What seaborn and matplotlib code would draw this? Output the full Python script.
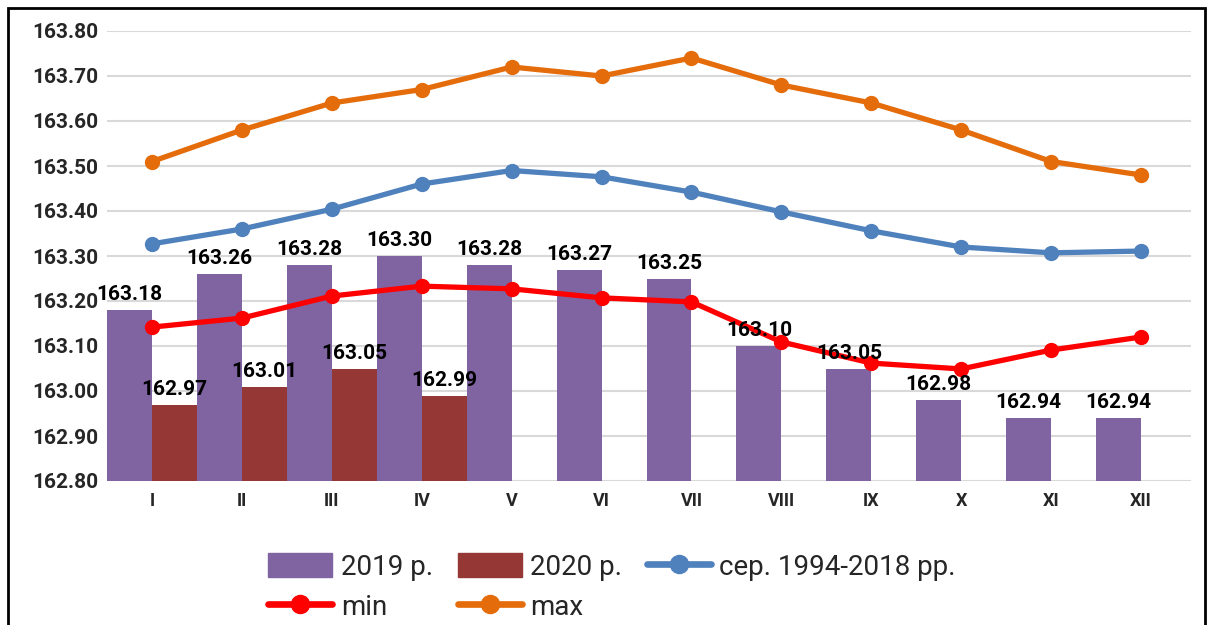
import pandas as pd
import matplotlib.pyplot as plt
import seaborn as sns
from matplotlib.patches import Rectangle, Patch
from matplotlib.lines import Line2D

# Рівні води по місяцях
months = ['I', 'II', 'III', 'IV', 'V', 'VI', 'VII', 'VIII', 'IX', 'X', 'XI', 'XII']
lvl_2019 = [163.18, 163.26, 163.28, 163.30, 163.28, 163.27, 163.25, 163.10, 163.05, 162.98, 162.94, 162.94]
lvl_2020 = [162.97, 163.01, 163.05, 162.99, None, None, None, None, None, None, None, None]
lvl_avg = [163.327, 163.36, 163.404, 163.46, 163.49, 163.476, 163.442, 163.398, 163.356, 163.32, 163.307, 163.311]
lvl_min = [163.142, 163.162, 163.211, 163.233, 163.227, 163.207, 163.198, 163.109, 163.062, 163.049, 163.091, 163.12]
lvl_max = [163.51, 163.58, 163.64, 163.67, 163.72, 163.70, 163.74, 163.68, 163.64, 163.58, 163.51, 163.48]

c19, c20 = '#8064A2', '#953735'
c_avg, c_min, c_max = '#4F81BD', '#FF0000', '#E46C0A'

sns.set_theme(style="white")
plt.rcParams['font.family'] = ['Roboto', 'DejaVu Sans']

df = pd.DataFrame({
    'month': months * 2,
    'year': ['2019 р.'] * 12 + ['2020 р.'] * 12,
    'level': lvl_2019 + lvl_2020,
})

fig = plt.figure(figsize=(12.12, 6.25), dpi=100)
ax = fig.add_axes([0.0883, 0.2304, 0.894, 0.72])

sns.barplot(data=df, x='month', y='level', hue='year', order=months,
            hue_order=['2019 р.', '2020 р.'], palette=[c19, c20],
            width=1.0, gap=0, ax=ax, legend=False, linewidth=0, saturation=1)

# стовпчики від нижньої межі осі 162.80
for p in ax.patches:
    h = p.get_height()
    if h and h == h:
        p.set_y(162.80)
        p.set_height(h - 162.80)

for cont in ax.containers:
    labels = [f"{v:.2f}" if v == v and v > 0 else "" for v in cont.datavalues]
    ax.bar_label(cont, labels=labels, padding=4, fontsize=15,
                 fontweight='bold', color='black')

x = range(len(months))
lw, ms = 3.8, 10
ax.plot(x, lvl_avg, color=c_avg, lw=lw, marker='o', ms=ms)
ax.plot(x, lvl_min, color=c_min, lw=lw, marker='o', ms=ms)
ax.plot(x, lvl_max, color=c_max, lw=lw, marker='o', ms=ms)

ax.set_ylim(162.80, 163.80)
ax.set_yticks([162.80 + 0.1 * i for i in range(11)])
ax.set_yticklabels([f"{162.80 + 0.1 * i:.2f}" for i in range(11)])
ax.set_xlim(-0.5, 11.55)
ax.set_xlabel('')
ax.set_ylabel('')
ax.yaxis.grid(True, color='#D9D9D9', lw=1.5)
ax.set_axisbelow(True)
for s in ax.spines.values():
    s.set_visible(False)
ax.tick_params(axis='y', labelsize=15, pad=6, length=0)
ax.tick_params(axis='x', labelsize=13, pad=8, length=0)
for t in ax.get_yticklabels() + ax.get_xticklabels():
    t.set_fontweight('bold')

handles = [
    Patch(color=c19, label='2019 р.'),
    Line2D([], [], color=c_min, lw=lw + 1, marker='o', ms=ms + 3, label='min'),
    Patch(color=c20, label='2020 р.'),
    Line2D([], [], color=c_max, lw=lw + 1, marker='o', ms=ms + 3, label='max'),
    Line2D([], [], color=c_avg, lw=lw + 1, marker='o', ms=ms + 3, label='сер. 1994-2018 рр.'),
]
fig.legend(handles=handles, ncol=3, loc='upper center', bbox_to_anchor=(0.505, 0.133),
           frameon=False, fontsize=20, handlelength=2.3, handleheight=0.95,
           columnspacing=0.9, handletextpad=0.3, labelspacing=0.45,
           borderaxespad=0)

fig.patches.append(Rectangle((8 / 1212, -0.05), 1197 / 1212, 1 - 8 / 625 + 0.05,
                             transform=fig.transFigure, fill=False,
                             edgecolor='black', lw=2))

fig.savefig('out.png', dpi=100)
